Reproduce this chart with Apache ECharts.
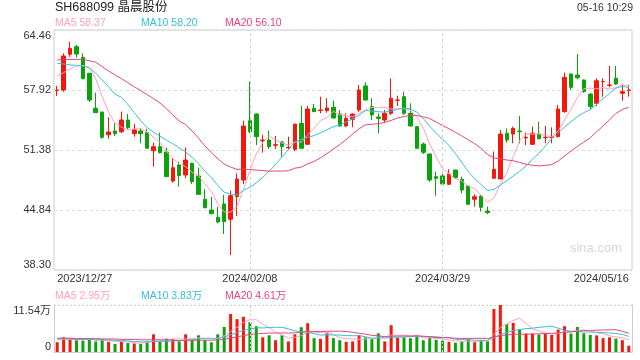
<!DOCTYPE html>
<html><head><meta charset="utf-8">
<script src="https://cdn.jsdelivr.net/npm/echarts@6/dist/echarts.min.js"></script>
<style>html,body{margin:0;padding:0;background:#fff}#c{width:640px;height:360px}</style>
</head><body><div id="c"></div>
<script>
// ---------- data ----------
const stockTitle = 'SH688099 晶晨股份';
const timeStamp = '05-16 10:29';
const dates = [
 '2023/12/27','2023/12/28','2023/12/29',
 '2024/01/02','2024/01/03','2024/01/04','2024/01/05','2024/01/08','2024/01/09','2024/01/10','2024/01/11','2024/01/12',
 '2024/01/15','2024/01/16','2024/01/17','2024/01/18','2024/01/19','2024/01/22','2024/01/23','2024/01/24','2024/01/25','2024/01/26',
 '2024/01/29','2024/01/30','2024/01/31',
 '2024/02/01','2024/02/02','2024/02/05','2024/02/06','2024/02/07','2024/02/08','2024/02/19','2024/02/20','2024/02/21','2024/02/22','2024/02/23',
 '2024/02/26','2024/02/27','2024/02/28','2024/02/29',
 '2024/03/01','2024/03/04','2024/03/05','2024/03/06','2024/03/07','2024/03/08','2024/03/11','2024/03/12','2024/03/13','2024/03/14','2024/03/15',
 '2024/03/18','2024/03/19','2024/03/20','2024/03/21','2024/03/22','2024/03/25','2024/03/26','2024/03/27','2024/03/28','2024/03/29',
 '2024/04/01','2024/04/02','2024/04/03','2024/04/08','2024/04/09','2024/04/10','2024/04/11','2024/04/12','2024/04/15','2024/04/16',
 '2024/04/17','2024/04/18','2024/04/19','2024/04/22','2024/04/23','2024/04/24','2024/04/25','2024/04/26','2024/04/29','2024/04/30',
 '2024/05/06','2024/05/07','2024/05/08','2024/05/09','2024/05/10','2024/05/13','2024/05/14','2024/05/15','2024/05/16'
];
// [open, close, low, high]
const ohlc = [
 [57.88,57.92,57.27,58.36],[57.92,61.63,57.73,61.92],[61.81,62.46,61.55,63.19],[62.64,61.84,61.48,62.82],[61.48,59.15,59.08,61.92],
 [59.74,56.83,56.60,59.80],[55.93,55.45,55.41,57.63],[55.52,52.76,52.61,55.52],[53.05,53.34,52.61,54.94],[53.45,53.16,52.91,54.29],
 [53.37,54.65,53.20,55.56],[54.65,53.81,53.64,55.30],[53.16,53.56,52.83,54.21],[53.45,53.16,52.11,53.78],[53.27,51.57,51.54,53.70],
 [51.30,51.74,49.56,52.18],[51.74,51.09,51.02,53.27],[51.16,48.47,48.47,51.67],[48.00,49.45,47.82,50.47],[49.74,48.58,47.38,50.11],
 [48.66,50.29,48.30,51.67],[49.93,47.93,47.67,50.00],[48.55,46.55,46.48,49.45],[46.01,45.09,45.03,47.10],[44.84,44.44,44.37,46.29],
 [44.04,43.53,43.39,45.20],[45.49,43.56,42.22,46.48],[43.83,46.40,39.93,46.94],[46.29,48.22,44.19,48.84],[48.11,53.99,47.67,54.57],
 [54.57,53.37,53.20,58.82],[55.30,52.83,51.92,55.38],[52.40,52.47,51.09,53.02],[52.47,51.74,51.49,53.48],[51.90,51.96,51.49,52.91],
 [52.25,51.74,50.65,52.36],[51.62,51.67,51.45,52.83],[51.45,54.21,51.24,54.21],[54.29,51.57,51.53,56.18],[52.00,55.85,52.00,56.18],
 [55.93,55.56,55.52,56.39],[55.70,55.74,55.38,57.19],[55.67,55.96,55.45,57.02],[56.03,54.87,54.79,56.75],[55.30,54.00,53.92,55.74],
 [54.00,54.83,53.86,55.38],[54.73,55.30,53.86,55.38],[55.74,57.92,55.56,58.47],[58.36,56.83,56.75,58.76],[56.10,55.20,54.65,57.02],
 [54.98,54.83,53.20,55.38],[54.65,55.38,54.36,55.74],[55.38,57.02,55.20,59.20],[56.80,56.83,56.18,57.30],[57.19,55.38,55.20,57.73],
 [55.38,54.00,53.92,56.47],[53.92,51.57,51.53,54.00],[52.03,51.13,50.94,52.20],[50.94,48.11,47.90,51.00],[48.47,48.30,46.40,49.02],
 [48.55,47.67,47.60,49.02],[47.64,48.76,47.56,49.28],[49.20,48.36,48.30,49.20],[48.19,47.02,46.66,48.47],[47.46,45.46,45.40,47.50],
 [46.01,46.29,45.20,46.55],[46.37,45.13,44.66,46.44],[44.73,44.55,44.40,45.20],[48.30,49.28,48.30,51.20],[48.22,53.12,48.19,53.56],
 [53.20,52.47,52.18,53.74],[53.12,53.74,52.11,53.92],[53.45,53.38,52.11,55.09],[52.70,52.77,51.92,53.27],[52.00,53.20,51.92,53.92],
 [53.12,52.61,52.54,54.47],[52.72,52.77,52.11,54.00],[52.76,52.80,52.11,53.85],[52.83,55.85,52.76,56.29],[55.56,59.30,55.45,59.81],
 [59.66,58.21,57.92,59.73],[59.55,59.26,59.08,61.84],[59.01,57.74,57.63,59.08],[57.48,56.10,55.82,57.56],[56.47,58.93,56.18,59.20],
 [58.82,58.86,57.19,59.20],[58.43,58.47,58.21,60.54],[59.20,58.57,58.47,60.54],[57.56,57.74,56.75,58.47],[57.88,57.92,57.19,58.47]
];
// volume, 万股
const volumes = [
 2.4,3.6,3.3,2.9,2.8,3.0,2.6,3.2,2.5,2.0,
 2.6,2.2,2.1,2.0,2.6,4.34,2.5,3.3,3.2,2.6,
 4.34,3.0,4.1,2.9,2.4,4.34,6.15,9.31,8.07,8.64,
 7.32,6.33,3.6,4.1,2.9,4.1,2.6,4.34,6.08,7.07,
 3.4,3.2,4.59,3.4,2.9,2.5,2.6,4.17,3.6,3.2,
 4.59,2.6,6.58,3.5,3.6,3.4,3.8,2.9,3.6,3.0,
 2.8,2.5,2.3,2.6,3.2,2.4,3.0,2.6,10.55,11.54,
 6.83,7.15,5.51,4.52,4.5,4.3,4.52,4.2,5.51,6.33,
 4.52,6.15,4.6,4.2,4.08,3.4,3.6,3.3,2.9,1.55
];
// moving-average values at the start of the window (need days before the first shown day)
const priceMa5Head  = [59.45,59.81,60.21,60.54];
const priceMa10Head = [60.83,60.75,60.65,60.61,60.54,60.32,59.74,59.01,58.28];
const priceMa20Head = [61.19,61.23,61.26,61.26,61.23,61.12,60.94,60.46,59.99,59.56,59.16,58.72,58.28,57.85,57.41,56.98,56.50,55.90,55.20];
const volMa5Head  = [3.0,3.1,3.1,3.0];
const volMa10Head = [3.2,3.2,3.2,3.1,3.1,3.1,3.0,3.0,3.0];
const volMa20Head = [3.4,3.4,3.4,3.3,3.3,3.3,3.3,3.2,3.2,3.2,3.1,3.1,3.1,3.0,3.0,3.0,3.0,3.0,2.9];
const priceLegend = ['MA5 58.37','MA10 58.20','MA20 56.10'];
const volLegend = ['MA5 2.95万','MA10 3.83万','MA20 4.61万'];
const priceTicks = [38.30, 44.84, 51.38, 57.92, 64.46];
const volTicks = [0, 11.54];
const dateLabelIdx = [0, 30, 60, 89];

// ---------- chart ----------
const RED = '#f2180c', GREEN = '#0ca20c';
const C5 = '#ffa0bf', C10 = '#34c0df', C20 = '#e8447b';
function ma(vals, n, head) {
  return vals.map((v, i) => {
    if (i < n - 1) return head[i];
    let s = 0; for (let k = i - n + 1; k <= i; k++) s += vals[k];
    return +(s / n).toFixed(3);
  });
}
const closes = ohlc.map(d => d[1]);
const FONT = '"Liberation Sans", Arial, "Noto Sans CJK SC", sans-serif';
const chart = echarts.init(document.getElementById('c'), null, {renderer: 'canvas'});
const lineS = (name, data, color, xi, yi) => ({
  name, type: 'line', data, xAxisIndex: xi, yAxisIndex: yi, symbol: 'none', smooth: false,
  lineStyle: {color, width: 1}, silent: true, z: 3
});
const legendTexts = (arr, y) => arr.map((t, k) => ({
  type: 'text', left: [55, 141, 225][k], top: y,
  style: {text: t, fill: [C5, C10, C20][k], font: '10.5px ' + FONT}
}));
const vMark = (type) => ({
  symbol: 'none', silent: true, label: {show: false},
  lineStyle: {type, color: '#cfcfcf', width: 1},
  data: [{xAxis: dates[30]}, {xAxis: dates[60]}]
});
chart.setOption({
  animation: false,
  textStyle: {fontFamily: FONT},
  grid: [
    {left: 54, top: 30, width: 578, height: 240, show: true, borderColor: '#cccccc', borderWidth: 1},
    {left: 54, top: 305, width: 578, height: 47, show: false}
  ],
  graphic: [
    {type: 'text', left: 55, top: 1, style: {text: stockTitle, fill: '#222', font: '12.5px ' + FONT}},
    {type: 'text', right: 7, top: 3, style: {text: timeStamp, fill: '#333', font: '10.5px ' + FONT}},
    {type: 'text', right: 18, top: 242, style: {text: 'sina.com', fill: '#d6d6d6', font: '13px ' + FONT}},
    ...legendTexts(priceLegend, 18),
    ...legendTexts(volLegend, 291)
  ],
  xAxis: [
    {type: 'category', data: dates, gridIndex: 0, boundaryGap: true,
     axisLine: {show: false}, axisTick: {show: false}, splitLine: {show: false},
     axisLabel: {interval: (i) => dateLabelIdx.includes(i), color: '#333', fontSize: 11, margin: 3,
       alignMinLabel: 'left', alignMaxLabel: 'right', showMinLabel: true, showMaxLabel: true}},
    {type: 'category', data: dates, gridIndex: 1, boundaryGap: true,
     axisLine: {show: true, lineStyle: {color: '#cccccc'}}, axisTick: {show: false},
     axisLabel: {show: false}, splitLine: {show: false}}
  ],
  yAxis: [
    {type: 'value', gridIndex: 0, min: priceTicks[0], max: priceTicks[priceTicks.length - 1],
     interval: +(priceTicks[1] - priceTicks[0]).toFixed(2),
     axisLine: {show: false}, axisTick: {show: false},
     axisLabel: {color: '#333', fontSize: 11, margin: 3, formatter: v => v.toFixed(2),
       verticalAlignMinLabel: 'bottom', verticalAlignMaxLabel: 'top'},
     splitLine: {show: true, lineStyle: {color: '#dddddd', type: [3, 3], width: 1}}},
    {type: 'value', gridIndex: 1, min: volTicks[0], max: volTicks[1], interval: volTicks[1],
     axisLine: {show: true, lineStyle: {color: '#cccccc'}}, axisTick: {show: false},
     axisLabel: {color: '#333', fontSize: 11, margin: 3,
       formatter: v => v === 0 ? '0' : v.toFixed(2) + '万',
       verticalAlignMinLabel: 'bottom', verticalAlignMaxLabel: 'top'},
     splitLine: {show: true, lineStyle: {color: '#cccccc', type: [2, 2], width: 1}}},
    {type: 'value', gridIndex: 1, position: 'right', min: volTicks[0], max: volTicks[1],
     axisLine: {show: true, lineStyle: {color: '#cccccc'}}, axisTick: {show: false},
     axisLabel: {show: false}, splitLine: {show: false}}
  ],
  series: [
    {type: 'candlestick', xAxisIndex: 0, yAxisIndex: 0, data: ohlc, barWidth: 4,
     itemStyle: {color: RED, color0: GREEN, borderColor: RED, borderColor0: GREEN, borderWidth: 1},
     markLine: vMark([3, 3]), z: 2},
    lineS('MA5', ma(closes, 5, priceMa5Head), C5, 0, 0),
    lineS('MA10', ma(closes, 10, priceMa10Head), C10, 0, 0),
    lineS('MA20', ma(closes, 20, priceMa20Head), C20, 0, 0),
    {type: 'bar', xAxisIndex: 1, yAxisIndex: 1, barWidth: 3,
     data: volumes.map((v, i) => ({value: v, itemStyle: {color: ohlc[i][1] >= ohlc[i][0] ? RED : GREEN}})),
     markLine: vMark([2, 2]), z: 2},
    lineS('VMA5', ma(volumes, 5, volMa5Head), C5, 1, 1),
    lineS('VMA10', ma(volumes, 10, volMa10Head), C10, 1, 1),
    lineS('VMA20', ma(volumes, 20, volMa20Head), C20, 1, 1)
  ]
});
</script></body></html>
